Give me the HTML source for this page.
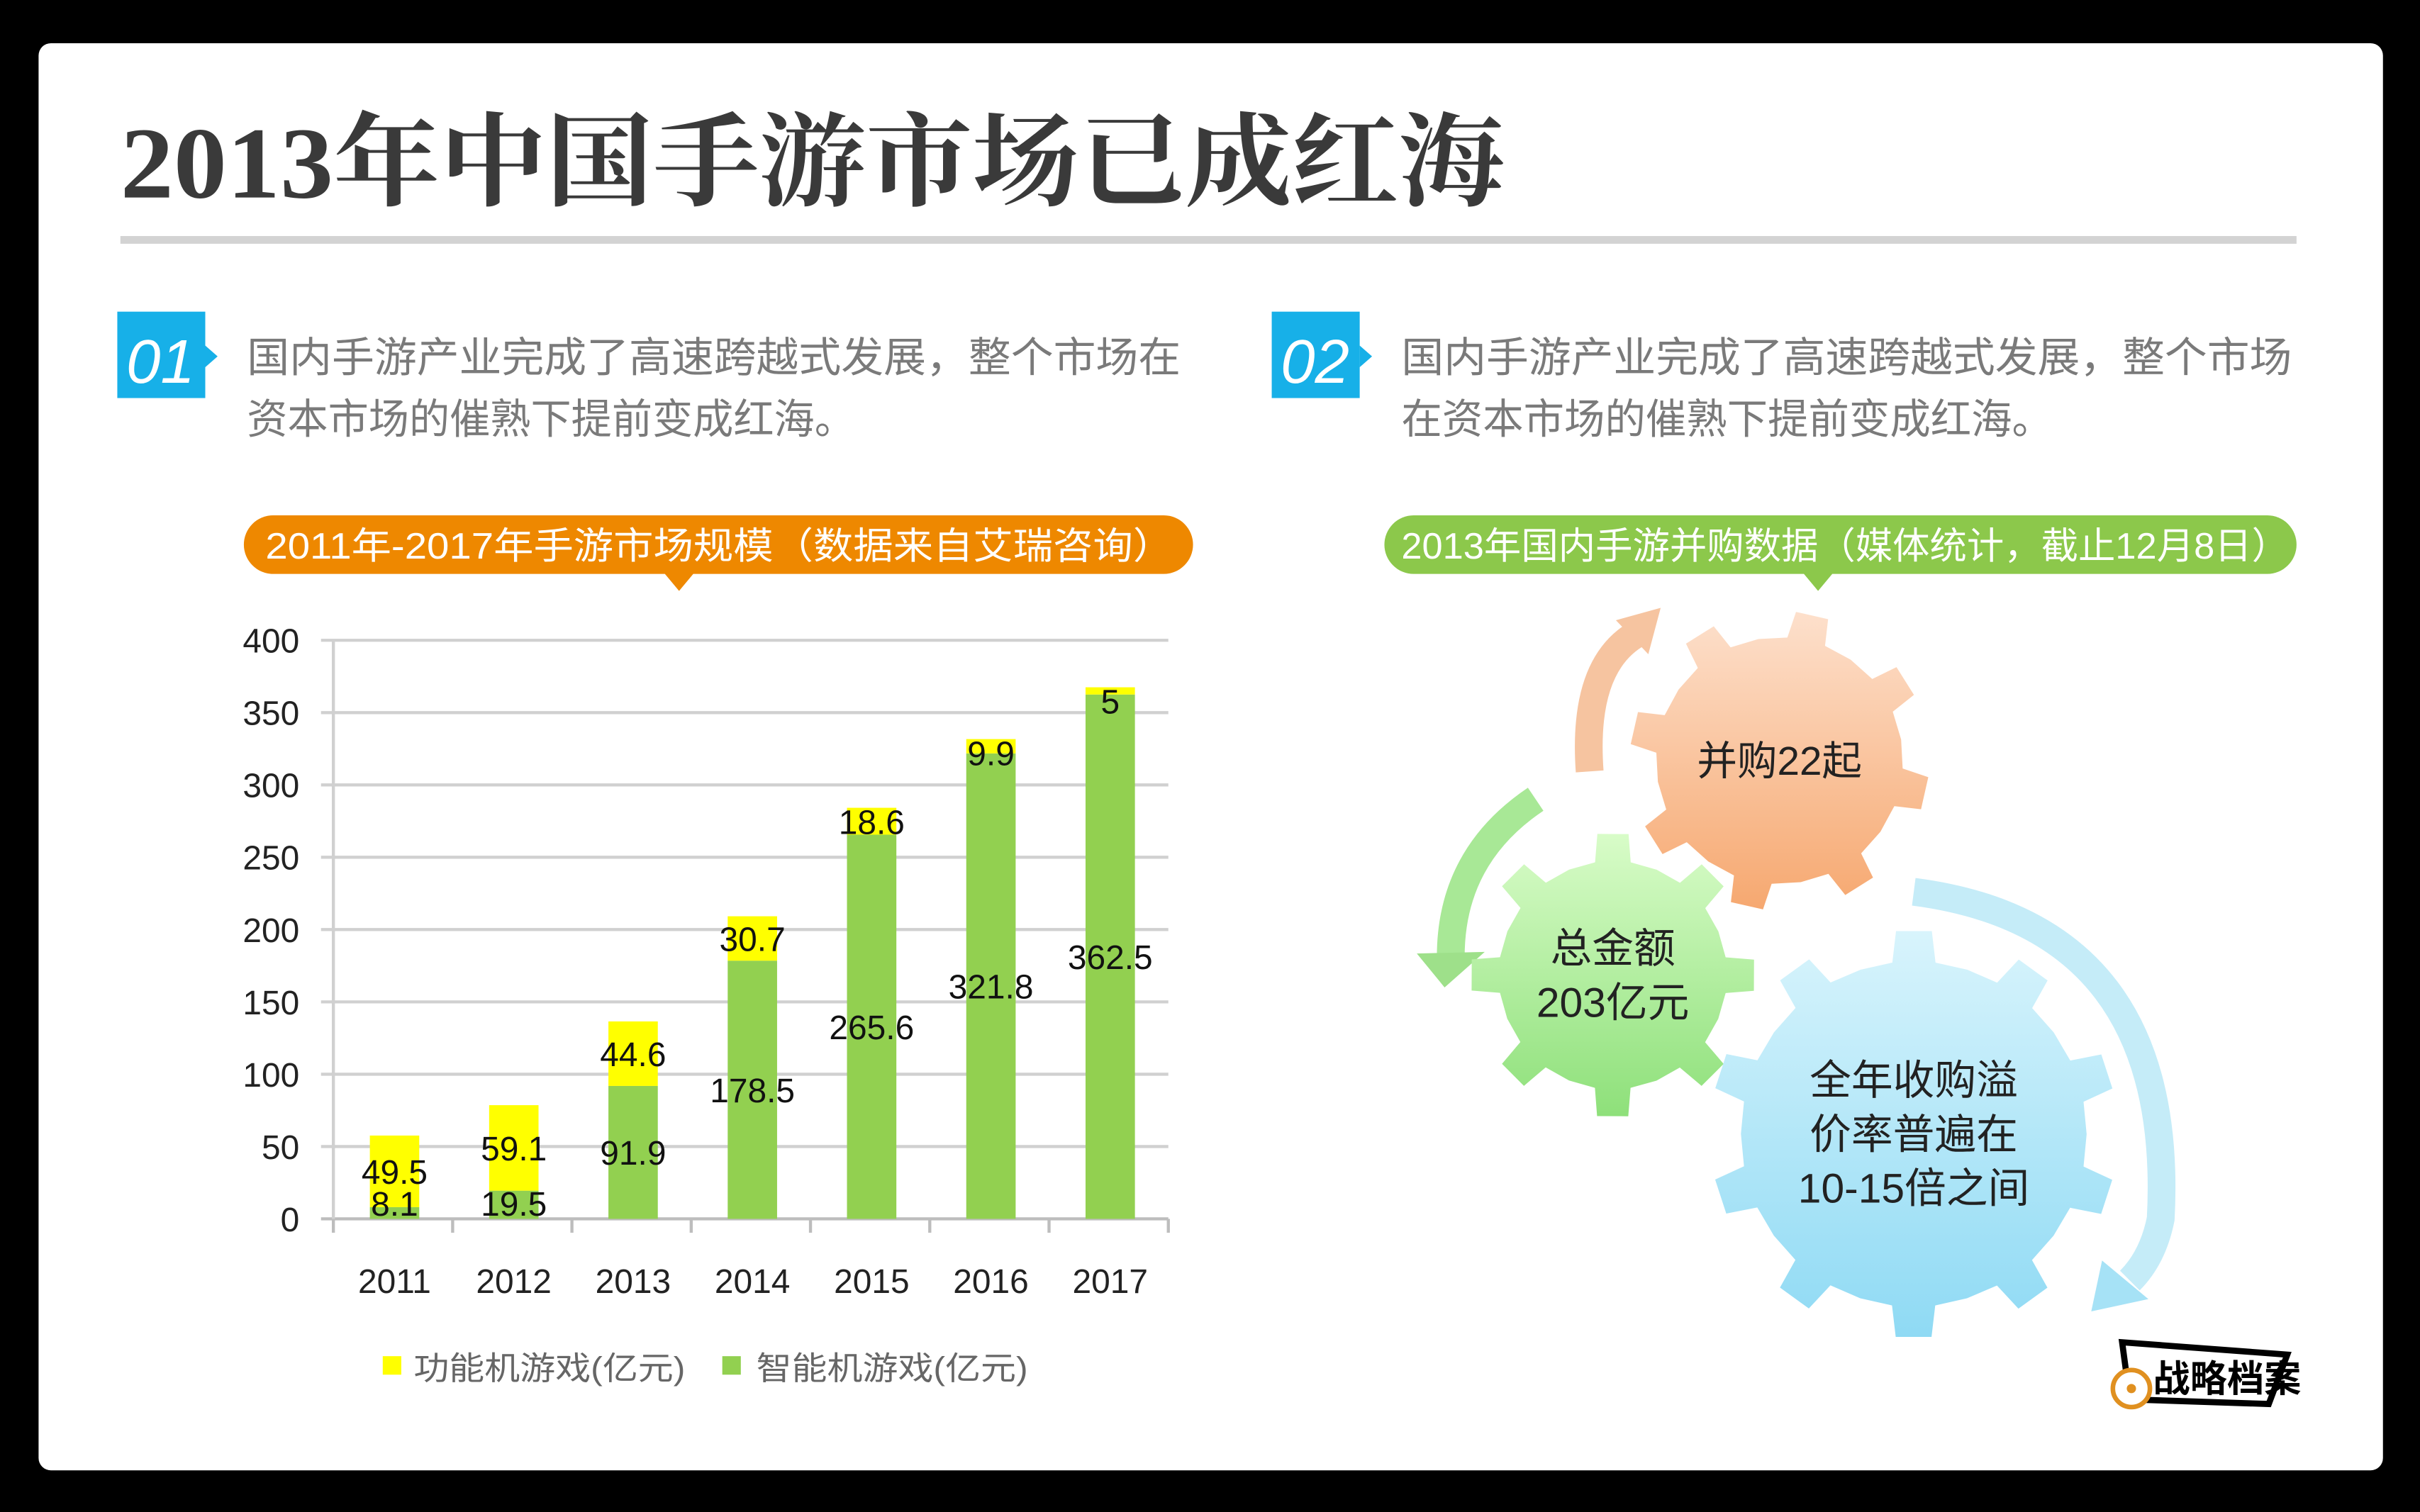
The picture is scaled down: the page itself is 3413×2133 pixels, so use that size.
<!DOCTYPE html>
<html><head><meta charset="utf-8"><style>
html,body{margin:0;padding:0;background:#000;}
svg{display:block;}
text{font-family:"Liberation Sans","Noto Sans CJK SC",sans-serif;}
</style></head><body>
<svg id="s" width="3413" height="2133" viewBox="0 0 1568 980" preserveAspectRatio="none" xmlns="http://www.w3.org/2000/svg">
<rect x="0" y="0" width="1568" height="980" rx="40" fill="#000"/>
<rect x="25" y="28" width="1519" height="925" rx="8" fill="#fff"/>
<text x="78" y="128" font-size="66" font-weight="bold" fill="#3a3a3a" textLength="897" lengthAdjust="spacingAndGlyphs" style='font-family:"Liberation Serif","Noto Serif CJK SC",serif'>2013年中国手游市场已成红海</text>
<rect x="78" y="153" width="1410" height="5" fill="#d3d3d3"/>

<g>
<rect x="76" y="202" width="57" height="56" fill="#17b0e8"/>
<polygon points="133,224 141,231 133,238" fill="#17b0e8"/>
<text x="104" y="248" font-size="40" font-style="italic" fill="#fff" text-anchor="middle">01</text>
<text x="160" y="241" font-size="27" fill="#7a7a7a" textLength="605" lengthAdjust="spacingAndGlyphs">国内手游产业完成了高速跨越式发展，整个市场在</text>
<text x="160" y="281" font-size="27" fill="#7a7a7a" textLength="394" lengthAdjust="spacingAndGlyphs">资本市场的催熟下提前变成红海。</text>
</g>
<g>
<rect x="824" y="202" width="57" height="56" fill="#17b0e8"/>
<polygon points="881,224 889,231 881,238" fill="#17b0e8"/>
<text x="852" y="248" font-size="40" font-style="italic" fill="#fff" text-anchor="middle">02</text>
<text x="908" y="241" font-size="27" fill="#7a7a7a" textLength="577" lengthAdjust="spacingAndGlyphs">国内手游产业完成了高速跨越式发展，整个市场</text>
<text x="908" y="281" font-size="27" fill="#7a7a7a" textLength="422" lengthAdjust="spacingAndGlyphs">在资本市场的催熟下提前变成红海。</text>
</g>

<g>
<rect x="158" y="334" width="615" height="38" rx="19" fill="#ee8800"/>
<polygon points="430,371 450,371 440,383" fill="#ee8800"/>
<text x="172" y="362" font-size="24" fill="#fff" textLength="588" lengthAdjust="spacingAndGlyphs">2011年-2017年手游市场规模（数据来自艾瑞咨询）</text>
</g>
<g>
<rect x="897" y="334" width="591" height="38" rx="19" fill="#8cc84b"/>
<polygon points="1168,371 1188,371 1178,383" fill="#8cc84b"/>
<text x="908" y="362" font-size="24" fill="#fff" textLength="575" lengthAdjust="spacingAndGlyphs">2013年国内手游并购数据（媒体统计，截止12月8日）</text>
</g>

<g id="chart"></g>

<g id="gears">
<path d="M1030,500 Q1025,430 1062,410" fill="none" stroke="#f6c4a0" stroke-width="18"/>
<polygon points="1047,402 1076,394 1068,424" fill="#f6c4a0"/>
<path d="M995,518 Q940,555 940,620" fill="none" stroke="#a8e896" stroke-width="18"/>
<polygon points="918,618 962,617 936,640" fill="#9ee08a"/>
<path d="M1240,578 Q1410,600 1400,790 Q1395,815 1380,830" fill="none" stroke="#c5ecf8" stroke-width="18"/>
<polygon points="1362,817 1392,842 1355,850" fill="#a6e2f6"/>
</g>

<g>
<polygon points="1375,870 1482,878 1470,910 1380,907" fill="#fff" stroke="#000" stroke-width="4"/>
<text x="1395" y="902" font-size="24" font-weight="bold" fill="#000">战略档案</text>
<circle cx="1381" cy="900" r="12" fill="#fff" stroke="#e09020" stroke-width="3"/>
<circle cx="1381" cy="900" r="3" fill="#e09020"/>
</g>
</svg>
<script>
const NS='http://www.w3.org/2000/svg';
const categories=['2011','2012','2013','2014','2015','2016','2017'];
const smartValues=[8.1,19.5,91.9,178.5,265.6,321.8,362.5];
const featureValues=[49.5,59.1,44.6,30.7,18.6,9.9,5];
const yTicks=[0,50,100,150,200,250,300,350,400];
const seriesNames=['功能机游戏(亿元)','智能机游戏(亿元)'];

const chart=document.getElementById('chart');
const x0=216,x1=757,yTop=415,yBot=790,yMax=400;
const band=(x1-x0)/categories.length;
const yS=v=>yBot-(v/yMax)*(yBot-yTop);
const xC=i=>x0+band*(i+0.5)+1;
function mk(tag,attrs,txt){const e=document.createElementNS(NS,tag);for(const k in attrs)e.setAttribute(k,attrs[k]);if(txt!==undefined)e.textContent=txt;chart.appendChild(e);return e;}
yTicks.forEach(t=>{
  const l=mk('line',{x1:x0-8,x2:x1,y1:yS(t),y2:yS(t),stroke:t===0?'#bdbdbd':'#d0d0d0','stroke-width':2});
  
  
  const tx=mk('text',{x:194,y:yS(t)+8,'font-size':22,'text-anchor':'end',fill:'#222'},String(t));
  
  
});
const ax=mk('line',{x1:x0,x2:x0,y1:yTop,y2:yBot,stroke:'#d0d0d0','stroke-width':2});


for(let i=0;i<=categories.length;i++){
  const tk=mk('line',{x1:x0+band*i,x2:x0+band*i,y1:yBot,y2:yBot+9,stroke:'#bdbdbd','stroke-width':2});
  
  
}
const bw=32;
categories.forEach((c,i)=>{
  const cx=xC(i);
  const s=smartValues[i],f=featureValues[i];
  const g=mk('rect',{x:cx-bw/2,y:yS(s),width:bw,height:yBot-yS(s),fill:'#92d050'});
  
  
  const y=mk('rect',{x:cx-bw/2,y:yS(s+f),width:bw,height:yS(s)-yS(s+f),fill:'#ffff00'});
  
  
  let sy, fy;
  if(i<2){ sy=yS(0)-2; } else { sy=yS(s/2)+8; }
  if(i<4){ fy=yS(s+f/2)+8; } else { fy=yS(s+f)+17; }
  const sl=mk('text',{x:cx,y:sy,'font-size':22,'text-anchor':'middle',fill:'#111'},String(s));
  
  
  const fl=mk('text',{x:cx,y:fy,'font-size':22,'text-anchor':'middle',fill:'#111'},String(f));
  
  
  const xl=mk('text',{x:cx,y:838,'font-size':22,'text-anchor':'middle',fill:'#222'},c);
  
  
});
const lg1=mk('rect',{x:248,y:879,width:12,height:12,fill:'#ffff00'});


const lt1=mk('text',{x:268,y:894,'font-size':21,fill:'#666',textLength:176,lengthAdjust:'spacingAndGlyphs'},seriesNames[0]);


const lg2=mk('rect',{x:468,y:879,width:12,height:12,fill:'#92d050'});


const lt2=mk('text',{x:490,y:894,'font-size':21,fill:'#666',textLength:176,lengthAdjust:'spacingAndGlyphs'},seriesNames[1]);



const gears=document.getElementById('gears');
function gearPath(cx,cy,r,R,n,rot){
  let d='';const step=Math.PI*2/n;
  for(let k=0;k<n;k++){
    const a=rot+k*step;
    const pts=[[a-step*0.5,r],[a-step*0.2,r],[a-step*0.14,R],[a+step*0.14,R],[a+step*0.2,r]];
    pts.forEach((p,j)=>{d+=(k===0&&j===0?'M':'L')+(cx+p[1]*Math.cos(p[0])).toFixed(1)+','+(cy+p[1]*Math.sin(p[0])).toFixed(1);});
  }
  return d+'Z';
}
function gear(cx,cy,r,R,n,rot,c1,c2,name,lines,fs){
  const id='gr'+name;
  const defs=document.createElementNS(NS,'defs');
  defs.innerHTML='<linearGradient id="'+id+'" x1="0" y1="0" x2="0" y2="1"><stop offset="0" stop-color="'+c1+'"/><stop offset="1" stop-color="'+c2+'"/></linearGradient>';
  gears.appendChild(defs);
  const p=document.createElementNS(NS,'path');
  p.setAttribute('d',gearPath(cx,cy,r,R,n,rot));
  p.setAttribute('fill','url(#'+id+')');
  
  
  gears.appendChild(p);
  lines.forEach((t,i)=>{
    const e=document.createElementNS(NS,'text');
    e.setAttribute('x',cx);e.setAttribute('y',cy+(i-(lines.length-1)/2)*fs*1.3+fs*0.35);
    e.setAttribute('font-size',fs);e.setAttribute('text-anchor','middle');e.setAttribute('fill','#222');
    e.textContent=t;
    
    
    gears.appendChild(e);
  });
}
gear(1153,493,80,97,8,-1.35,'#fde0cc','#f6a870','orange',['并购22起'],26);
gear(1045,632,74,92,8,-1.57,'#d8fcc8','#8ee07a','green',['总金额','203亿元'],27);
gear(1240,735,112,132,10,-1.57,'#d8f4fc','#8fdaf4','blue',['全年收购溢','价率普遍在','10-15倍之间'],27);
</script>
</body></html>
